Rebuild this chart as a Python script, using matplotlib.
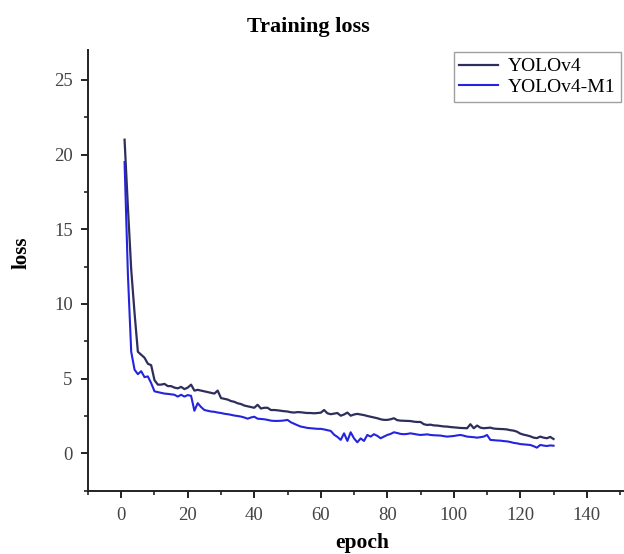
import matplotlib
matplotlib.use("Agg")
import matplotlib.pyplot as plt
from matplotlib.ticker import MultipleLocator

# loss per epoch (epochs 1..130)
epochs = list(range(1, 131))

yolov4 = [21.0, 16.5, 12.3, 9.4, 6.8, 6.6, 6.4, 6.0, 5.9, 4.9,
          4.6, 4.6, 4.65, 4.5, 4.5, 4.4, 4.35, 4.45, 4.3, 4.4,
          4.6, 4.2, 4.25, 4.2, 4.15, 4.1, 4.05, 4.0, 4.2, 3.7,
          3.65, 3.6, 3.5, 3.45, 3.35, 3.3, 3.2, 3.15, 3.1, 3.05,
          3.25, 3.0, 3.05, 3.05, 2.9, 2.9, 2.88, 2.85, 2.82, 2.8,
          2.75, 2.73, 2.76, 2.75, 2.72, 2.7, 2.7, 2.68, 2.7, 2.72,
          2.9, 2.68, 2.62, 2.66, 2.7, 2.52, 2.6, 2.73, 2.52, 2.6,
          2.64, 2.6, 2.56, 2.5, 2.45, 2.4, 2.35, 2.28, 2.24, 2.24,
          2.28, 2.35, 2.22, 2.19, 2.18, 2.17, 2.16, 2.12, 2.1, 2.1,
          1.95, 1.9, 1.92, 1.87, 1.86, 1.83, 1.8, 1.79, 1.76, 1.74,
          1.72, 1.7, 1.69, 1.68, 1.95, 1.68, 1.86, 1.72, 1.68, 1.7,
          1.72, 1.66, 1.64, 1.63, 1.62, 1.6, 1.55, 1.52, 1.45, 1.32,
          1.25, 1.2, 1.14, 1.05, 1.02, 1.12, 1.05, 1.01, 1.1, 0.96]

yolov4_m1 = [19.5, 12.0, 6.8, 5.6, 5.3, 5.5, 5.1, 5.15, 4.7, 4.15,
             4.1, 4.05, 4.0, 3.98, 3.95, 3.92, 3.8, 3.92, 3.8, 3.9,
             3.85, 2.85, 3.36, 3.1, 2.9, 2.85, 2.8, 2.78, 2.73, 2.7,
             2.65, 2.62, 2.58, 2.53, 2.5, 2.46, 2.4, 2.32, 2.4, 2.45,
             2.32, 2.3, 2.28, 2.24, 2.19, 2.17, 2.17, 2.18, 2.2, 2.24,
             2.08, 1.98, 1.88, 1.79, 1.75, 1.7, 1.68, 1.66, 1.64, 1.64,
             1.6, 1.55, 1.5, 1.25, 1.1, 0.9, 1.34, 0.83, 1.41, 1.0,
             0.74, 1.0, 0.83, 1.23, 1.12, 1.28, 1.17, 1.01, 1.12, 1.23,
             1.3, 1.41, 1.36, 1.3, 1.28, 1.3, 1.34, 1.3, 1.26, 1.23,
             1.25, 1.27, 1.23, 1.21, 1.2, 1.19, 1.15, 1.12, 1.14, 1.16,
             1.2, 1.23, 1.18, 1.12, 1.1, 1.08, 1.05, 1.08, 1.12, 1.23,
             0.9, 0.88, 0.86, 0.85, 0.82, 0.8, 0.76, 0.7, 0.67, 0.62,
             0.6, 0.58, 0.56, 0.48, 0.38, 0.56, 0.52, 0.49, 0.53, 0.51]

plt.rcParams['font.family'] = ['Liberation Serif', 'DejaVu Serif']

fig = plt.figure(figsize=(6.24, 5.54), dpi=100)
ax = fig.add_axes([0.141, 0.1143, 0.858, 0.7954])

ax.plot(epochs, yolov4, color='#2e2e5c', linewidth=1.6, label='YOLOv4')
ax.plot(epochs, yolov4_m1, color='#2323e0', linewidth=1.5, label='YOLOv4-M1')

ax.set_xlim(-10, 151)
ax.set_ylim(-2.5, 27)
ax.xaxis.set_major_locator(MultipleLocator(20))
ax.xaxis.set_minor_locator(MultipleLocator(10))
ax.yaxis.set_major_locator(MultipleLocator(5))
ax.yaxis.set_minor_locator(MultipleLocator(2.5))

for s in ['top', 'right']:
    ax.spines[s].set_visible(False)
for s in ['left', 'bottom']:
    ax.spines[s].set_linewidth(1.4)
    ax.spines[s].set_color('#222222')

ax.tick_params(which='major', direction='out', length=5, width=1.4,
               labelsize=13.5, labelcolor='#444444', color='#222222')
ax.tick_params(axis='x', which='major', pad=7)
ax.tick_params(axis='y', which='major', pad=6)
ax.tick_params(which='minor', direction='out', length=3, width=1.2, color='#222222')

leg = ax.legend(loc='upper right', fontsize=14, frameon=True, fancybox=False,
                borderpad=0.3, handlelength=2.0, handletextpad=0.5,
                labelspacing=0.15, borderaxespad=0.1)
leg.get_frame().set_edgecolor('#888888')
leg.get_frame().set_linewidth(1.0)

fig.text(0.494, 0.951, 'Training loss', ha='center', va='center',
         fontsize=16, fontweight='bold')
fig.text(0.580, 0.020, 'epoch', ha='center', va='center',
         fontsize=15.5, fontweight='bold')
fig.text(0.035, 0.543, 'loss', ha='center', va='center', rotation=90,
         fontsize=15, fontweight='bold')

fig.savefig('out.png', dpi=100)
